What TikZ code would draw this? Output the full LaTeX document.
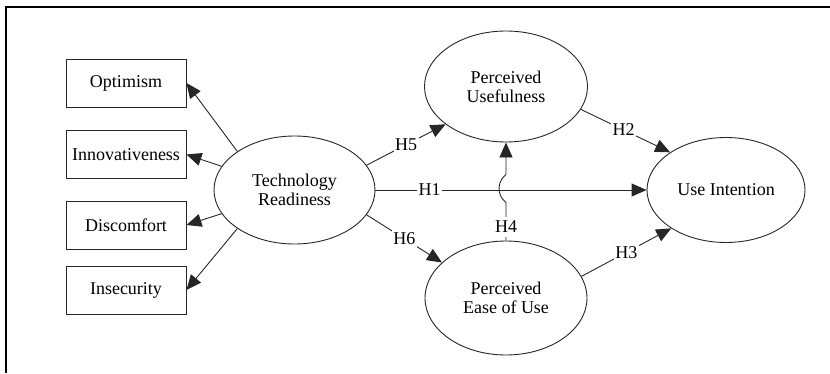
\documentclass[tikz,border=0pt]{standalone}
\usepackage{fontspec}
\setmainfont{Liberation Serif}
\usetikzlibrary{arrows.meta,shapes.geometric,calc}

\begin{document}
\begin{tikzpicture}[x=1pt,y=1pt,
  font=\fontsize{18}{19}\selectfont,
  construct/.style={ellipse, draw=black!85, line width=0.9pt, inner sep=0pt, align=center},
  facet/.style={rectangle, draw=black!85, line width=0.9pt, minimum width=120pt,
                minimum height=48pt, inner sep=0pt},
  link/.style={draw=black!85, line width=0.9pt, -{Triangle[length=15pt,width=13pt]}},
  hyp/.style={fill=white, inner xsep=1.5pt, inner ysep=4pt, text=black},
]
\useasboundingbox (0,0) rectangle (830,373);

% figure frame (top and left edges)
\draw[line width=1.8pt] (6,0) -- (6,366) -- (830,366);

% dimensions of technology readiness
\node[facet] (opt) at (126,290)   {Optimism};
\node[facet] (inn) at (126,218.5) {Innovativeness};
\node[facet] (dis) at (126,148)   {Discomfort};
\node[facet] (ins) at (126,83)    {Insecurity};

% constructs
\node[construct, minimum width=161pt, minimum height=108pt] (tr)   at (294.5,183) {Technology\\Readiness};
\node[construct, minimum width=163pt, minimum height=111pt] (pu)   at (506,286.5) {Perceived\\Usefulness};
\node[construct, minimum width=162pt, minimum height=114pt] (peou) at (506,75)    {Perceived\\Ease of Use};
\node[construct, minimum width=158pt, minimum height=105pt] (ui)   at (726,183)   {Use Intention};

% readiness to its dimensions
\draw[link] (tr.146) -- (opt.east);
\draw[link] (tr.162) -- (inn.east);
\draw[link] (tr.198) -- (dis.east);
\draw[link] (tr.214) -- (ins.east);

% hypotheses
\draw[link] (tr.east) -- node[hyp,pos=0.2] {H1} (ui.west);
\draw[link] (tr.19) -- node[hyp,pos=0.5] {H5} (pu.212);
\draw[link] (tr.341) -- node[hyp,pos=0.5] {H6} (peou.151);
\draw[link] (pu.343.5) -- node[hyp,pos=0.48] {H2} (ui.146.5);
\draw[link] (peou.16.5) -- node[hyp,pos=0.5] {H3} (ui.215);
\draw[link] (peou.north) -- node[hyp,pos=0.36] {H4} ($(peou.north)+(0,38)$)
  arc[start angle=233, end angle=127, radius=17.5] -- (pu.south);
\end{tikzpicture}
\end{document}
